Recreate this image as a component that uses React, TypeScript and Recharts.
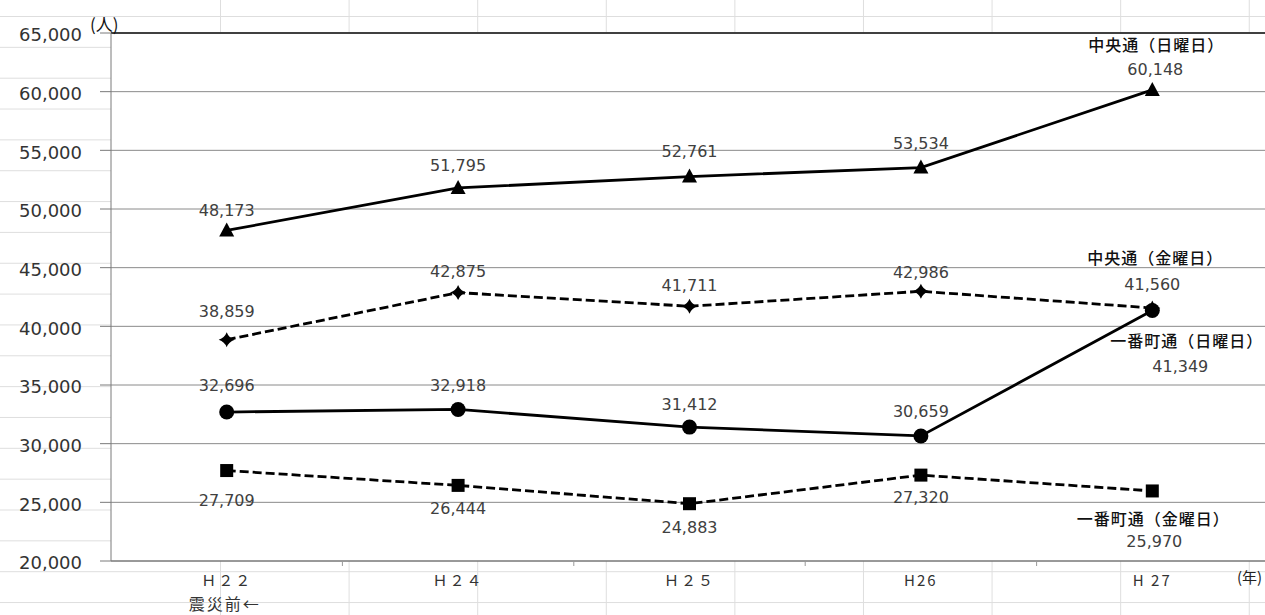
import { LineChart, Line, XAxis, YAxis, CartesianGrid, ReferenceLine } from 'recharts';

const categories = ['Ｈ２２', 'Ｈ２４', 'Ｈ２５', 'H26', 'H 27'];
const subLabels = ['震災前←', '', '', '', ''];
const chuoSun = [48173, 51795, 52761, 53534, 60148];
const chuoFri = [38859, 42875, 41711, 42986, 41560];
const ichibanSun = [32696, 32918, 31412, 30659, 41349];
const ichibanFri = [27709, 26444, 24883, 27320, 25970];
const seriesNames = ['中央通（日曜日）', '中央通（金曜日）', '一番町通（日曜日）', '一番町通（金曜日）'];
const yTicks = [20000, 25000, 30000, 35000, 40000, 45000, 50000, 55000, 60000, 65000];

const data = categories.map((c, i) => ({
  year: c,
  sub: subLabels[i],
  chuoSun: chuoSun[i],
  chuoFri: chuoFri[i],
  ichibanSun: ichibanSun[i],
  ichibanFri: ichibanFri[i],
}));

const NUM_FONT = '"DejaVu Sans", sans-serif';
const CJK_FONT = '"Noto Sans CJK JP", sans-serif';

type LabelCfg = {
  dy: number[];
  dx: number[];
  name: string;
  nameDx: number;
  nameDy: number;
  nameAnchor: 'start' | 'middle';
};

const makeLabel = (cfg: LabelCfg) => (props: any) => {
  const { x, y, index, value } = props;
  const last = index === categories.length - 1;
  return (
    <g key={`lbl-${cfg.name}-${index}`}>
      <text
        x={x + cfg.dx[index]}
        y={y + cfg.dy[index]}
        textAnchor="middle"
        dominantBaseline="middle"
        fontFamily={NUM_FONT}
        fontSize={16}
        fill="#404040"
      >
        {Number(value).toLocaleString('en-US')}
      </text>
      {last && (
        <text
          x={x + cfg.nameDx}
          y={y + cfg.nameDy}
          textAnchor={cfg.nameAnchor}
          dominantBaseline="middle"
          fontFamily={CJK_FONT}
          fontSize={16}
          fontWeight={500}
          letterSpacing={1}
          fill="#111"
        >
          {cfg.name}
        </text>
      )}
    </g>
  );
};

const triangleDot = (props: any) => {
  const { cx, cy, index } = props;
  return <path key={`tri-${index}`} d={`M${cx},${cy - 8} L${cx + 7.5},${cy + 6} L${cx - 7.5},${cy + 6} Z`} fill="#000" />;
};

const diamondDot = (props: any) => {
  const { cx, cy, index } = props;
  const d = `M${cx},${cy - 7.5} Q${cx + 2},${cy - 2} ${cx + 8},${cy} Q${cx + 2},${cy + 2} ${cx},${cy + 7.5} Q${cx - 2},${cy + 2} ${cx - 8},${cy} Q${cx - 2},${cy - 2} ${cx},${cy - 7.5} Z`;
  return <path key={`dia-${index}`} d={d} fill="#000" />;
};

const circleDot = (props: any) => {
  const { cx, cy, index } = props;
  return <circle key={`cir-${index}`} cx={cx} cy={cy} r={7.5} fill="#000" />;
};

const squareDot = (props: any) => {
  const { cx, cy, index } = props;
  return <rect key={`sq-${index}`} x={cx - 6.5} y={cy - 6.5} width={13} height={13} fill="#000" />;
};

const XTick = (props: any) => {
  const { x, y, payload, index } = props;
  const edge = payload.coordinate - (payload.offset || 0);
  return (
    <g>
      {index > 0 && <line x1={edge} y1={y} x2={edge} y2={y + 5} stroke="#999" />}
      <text
        x={x}
        y={y + 21}
        textAnchor="middle"
        dominantBaseline="middle"
        fontFamily={CJK_FONT}
        fontSize={15}
        letterSpacing={2}
        fill="#333"
      >
        {payload.value}
      </text>
      {subLabels[index] && (
        <text
          x={x - 2}
          y={y + 45}
          textAnchor="middle"
          dominantBaseline="middle"
          fontFamily={CJK_FONT}
          fontSize={16}
          letterSpacing={2}
          fill="#333"
        >
          {subLabels[index]}
        </text>
      )}
    </g>
  );
};

export default function App() {
  return (
    <div
      style={{
        position: 'fixed',
        left: 0,
        top: 0,
        width: 1265,
        height: 615,
        overflow: 'hidden',
        backgroundColor: '#fff',
        backgroundImage: 'linear-gradient(to bottom, #dedede 1px, transparent 1px)',
        backgroundSize: '100% 30.85px',
        backgroundPosition: '0 16px',
      }}
    >
      {/* spreadsheet column lines behind the chart */}
      <div
        style={{
          position: 'absolute',
          left: 220,
          top: 0,
          width: 1045,
          height: 615,
          backgroundImage: 'linear-gradient(to right, #dedede 1px, transparent 1px)',
          backgroundSize: '128.6px 100%',
        }}
      />
      <div style={{ position: 'absolute', left: 0, top: 0 }}>
        <LineChart width={1280} height={615} data={data} margin={{ top: 33, right: 12, bottom: 0, left: 11 }}>
          <CartesianGrid vertical={false} stroke="#8a8a8a" fill="#fff" fillOpacity={1} />
          <XAxis
            dataKey="year"
            scale="band"
            height={54}
            interval={0}
            tickSize={0}
            tickMargin={0}
            stroke="#6e6e6e"
            tick={<XTick />}
          />
          <YAxis
            width={100}
            domain={[20000, 65000]}
            ticks={yTicks}
            interval={0}
            tickSize={11}
            tickMargin={18}
            stroke="#7a7a7a"
            tickFormatter={(v: number) => v.toLocaleString('en-US')}
            tick={{ fontFamily: NUM_FONT, fontSize: 18, fill: '#333', dy: 2 }}
          />
          <ReferenceLine y={65000} stroke="#404040" strokeWidth={2} />
          <Line
            dataKey="chuoSun"
            stroke="#000"
            strokeWidth={2.8}
            isAnimationActive={false}
            dot={triangleDot}
            label={makeLabel({
              dy: [-19, -21, -24, -23, -19],
              dx: [0, 0, 0, 0, 3],
              name: seriesNames[0],
              nameDx: 4,
              nameDy: -43,
              nameAnchor: 'middle',
            })}
          />
          <Line
            dataKey="chuoFri"
            stroke="#000"
            strokeWidth={2.8}
            strokeDasharray="9 4"
            isAnimationActive={false}
            dot={diamondDot}
            label={makeLabel({
              dy: [-27, -20, -20, -18, -23],
              dx: [0, 0, 0, 0, 0],
              name: seriesNames[1],
              nameDx: 3,
              nameDy: -48,
              nameAnchor: 'middle',
            })}
          />
          <Line
            dataKey="ichibanFri"
            stroke="#000"
            strokeWidth={2.8}
            strokeDasharray="9 4"
            isAnimationActive={false}
            dot={squareDot}
            label={makeLabel({
              dy: [31, 24, 25, 23, 52],
              dx: [0, 0, 0, 0, 2],
              name: seriesNames[3],
              nameDx: 1,
              nameDy: 30,
              nameAnchor: 'middle',
            })}
          />
          <Line
            dataKey="ichibanSun"
            stroke="#000"
            strokeWidth={2.8}
            isAnimationActive={false}
            dot={circleDot}
            label={makeLabel({
              dy: [-26, -23, -22, -23, 57],
              dx: [0, 0, 0, 0, 28],
              name: seriesNames[2],
              nameDx: -42,
              nameDy: 32,
              nameAnchor: 'start',
            })}
          />
        </LineChart>
      </div>
      <span
        style={{
          position: 'absolute',
          left: 90,
          top: 14,
          fontFamily: CJK_FONT,
          fontSize: 17,
          lineHeight: '20px',
          color: '#111',
        }}
      >
        (人)
      </span>
      <span
        style={{
          position: 'absolute',
          left: 1237,
          top: 567,
          fontFamily: CJK_FONT,
          fontSize: 15,
          lineHeight: '20px',
          color: '#222',
          whiteSpace: 'nowrap',
        }}
      >
        (年)
      </span>
    </div>
  );
}
